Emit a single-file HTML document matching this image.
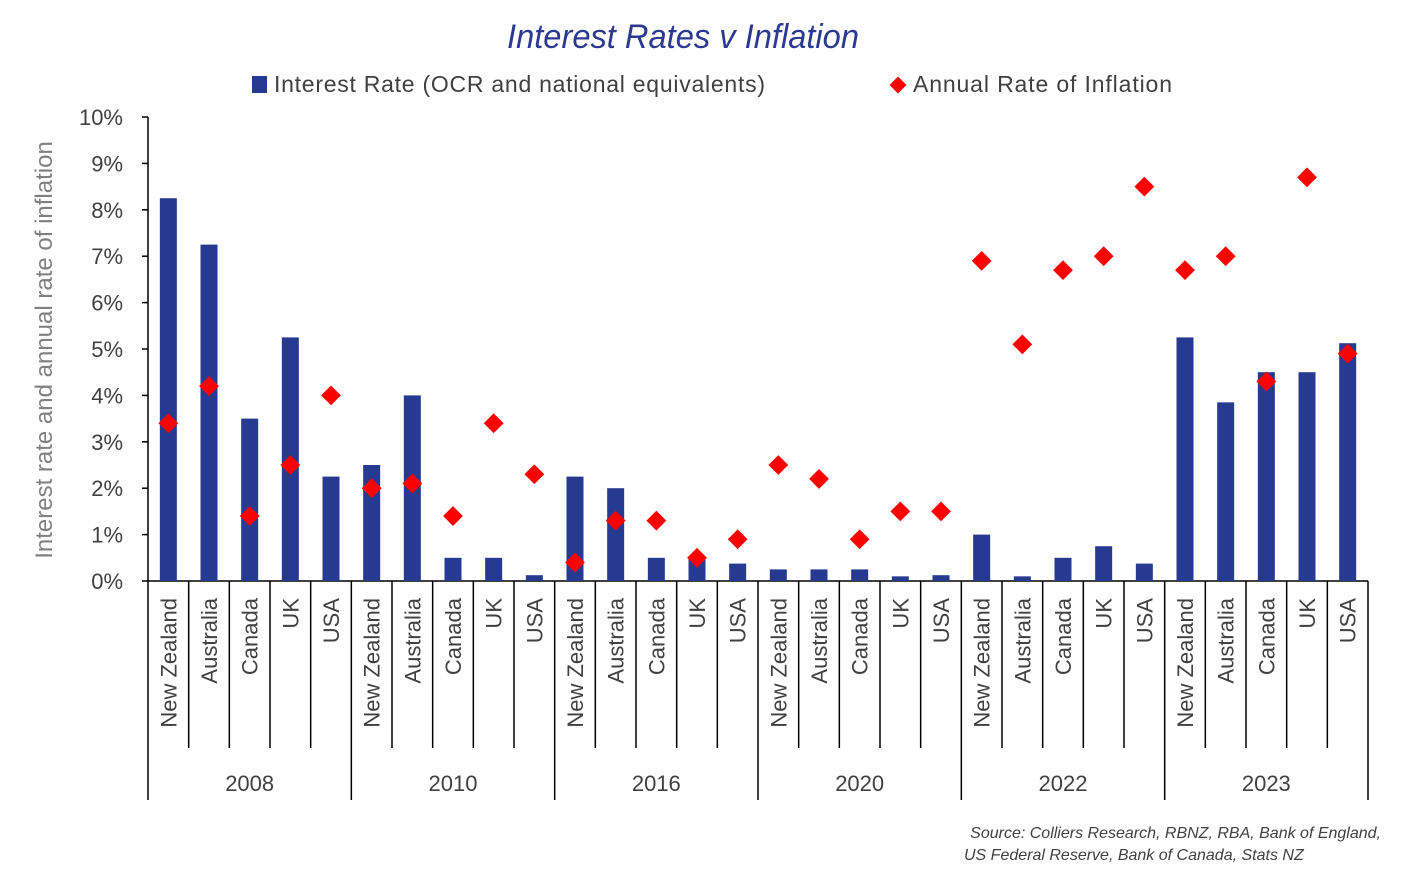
<!DOCTYPE html>
<html><head><meta charset="utf-8"><style>
body{margin:0;background:#fff;}
svg{display:block;font-family:"Liberation Sans",sans-serif;}
</style></head><body>
<svg id="chart" width="1406" height="873" xmlns="http://www.w3.org/2000/svg">
<text x="507" y="48" textLength="352" lengthAdjust="spacingAndGlyphs" font-size="34" font-style="italic" fill="#2B3990">Interest Rates v Inflation</text>
<g>
<rect x="252" y="76" width="15" height="17" fill="#273A92"/>
<text x="274" y="92" font-size="23" textLength="491" fill="#404040">Interest Rate (OCR and national equivalents)</text>
<rect x="892" y="79" width="12" height="12" fill="#FF0000" transform="rotate(45 898 85)"/>
<text x="913" y="92" font-size="23" textLength="259" fill="#404040">Annual Rate of Inflation</text>
</g>
<text transform="translate(52 350) rotate(-90)" text-anchor="middle" font-size="24" fill="#808080">Interest rate and annual rate of inflation</text>
<g id="axes"></g>
<g id="marks"></g>
<text x="1381" y="838" text-anchor="end" font-size="16" font-style="italic" fill="#404040">Source: Colliers Research, RBNZ, RBA, Bank of England,</text>
<text x="964" y="860" font-size="16" font-style="italic" fill="#404040">US Federal Reserve, Bank of Canada, Stats NZ</text>
</svg>
<script>
const years=["2008","2010","2016","2020","2022","2023"];
const countries=["New Zealand","Australia","Canada","UK","USA"];
const interestRates=[8.25,7.25,3.5,5.25,2.25, 2.5,4.0,0.5,0.5,0.125, 2.25,2.0,0.5,0.5,0.375, 0.25,0.25,0.25,0.1,0.125, 1.0,0.1,0.5,0.75,0.375, 5.25,3.85,4.5,4.5,5.125];
const inflation=[3.4,4.2,1.4,2.5,4.0, 2.0,2.1,1.4,3.4,2.3, 0.4,1.3,1.3,0.5,0.9, 2.5,2.2,0.9,1.5,1.5, 6.9,5.1,6.7,7.0,8.5, 6.7,7.0,4.3,8.7,4.9];
const yTicks=[0,1,2,3,4,5,6,7,8,9,10];
const NS="http://www.w3.org/2000/svg";
const x0=148,x1=1368,yBase=581,yTop=117;
const n=interestRates.length,cw=(x1-x0)/n;
const y=v=>yBase-(v/10)*(yBase-yTop);
const xc=i=>x0+cw*(i+0.5);
function mk(tag,attrs,parent){const e=document.createElementNS(NS,tag);for(const k in attrs)e.setAttribute(k,attrs[k]);parent.appendChild(e);return e;}
const ax=document.getElementById('axes'),mg=document.getElementById('marks');
let l=mk('line',{x1:x0,y1:yTop,x2:x0,y2:yBase,stroke:'#000','stroke-width':1.5},ax);


yTicks.forEach(t=>{
 let tk=mk('line',{x1:x0-6,y1:y(t),x2:x0,y2:y(t),stroke:'#000','stroke-width':1.5},ax);
 
 
 let tx=mk('text',{x:x0-25,y:y(t)+8,'text-anchor':'end','font-size':22,fill:'#404040'},ax);
 tx.textContent=t+'%';
 
 
});
l=mk('line',{x1:x0,y1:yBase,x2:x1,y2:yBase,stroke:'#000','stroke-width':1.5},ax);


for(let i=0;i<=n;i++){
 const gx=x0+cw*i;const grp=i%5===0;
 let tk=mk('line',{x1:gx,y1:yBase,x2:gx,y2:grp?800:748,stroke:'#000','stroke-width':1.5},ax);
 
 
}
for(let i=0;i<n;i++){
 let tx=mk('text',{transform:`translate(${xc(i)+8} 598) rotate(-90)`,'text-anchor':'end','font-size':22,fill:'#404040'},ax);
 tx.textContent=countries[i%5];
 
 
}
years.forEach((yr,g)=>{
 let tx=mk('text',{x:x0+cw*(g*5+2.5),y:791,'text-anchor':'middle','font-size':22,fill:'#404040'},ax);
 tx.textContent=yr;
 
 
});
interestRates.forEach((v,i)=>{
 let b=mk('rect',{x:xc(i)-8.5,y:y(v),width:17,height:yBase-y(v),fill:'#273A92'},mg);
 
 
});
inflation.forEach((v,i)=>{
 const cx=xc(i),cy=y(v);
 let d=mk('rect',{x:cx-7,y:cy-7,width:14,height:14,fill:'#FF0000',transform:`rotate(45 ${cx} ${cy})`},mg);
 
 
});
</script>
</body></html>
